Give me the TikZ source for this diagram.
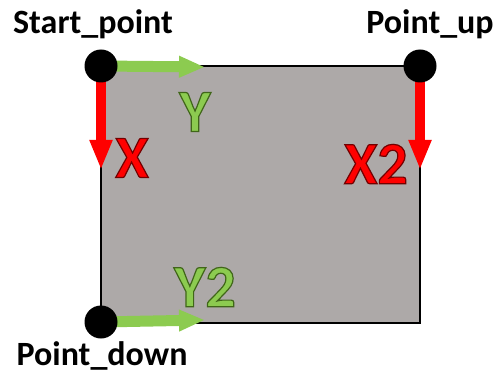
\documentclass[tikz,border=0pt]{standalone}
\usepackage{fontspec}
\setmainfont{Carlito}
\usetikzlibrary{arrows.meta}
\definecolor{boxgray}{HTML}{ADA9A8}
\definecolor{arrred}{HTML}{FF0000}
\definecolor{arrgreen}{HTML}{8CCB50}
\newcommand\myoutline[2]{\special{pdf:literal q 2 Tr 1.2 w #1 RG}#2\special{pdf:literal Q}}
\tikzset{
  dot/.style={circle,fill=black,inner sep=0pt,minimum size=33pt},
  redarrow/.style={draw=arrred,line width=10pt,-{Triangle[length=30pt,width=21pt]}},
  greenarrow/.style={draw=arrgreen,line width=11pt,-{Triangle[length=26pt,width=20pt]}},
  ptlabel/.style={font=\bfseries\fontsize{34}{38}\selectfont,text=black},
  axred/.style={font=\bfseries\fontsize{60}{64}\selectfont,text=arrred},
  axgreen/.style={font=\bfseries\fontsize{60}{64}\selectfont,text=arrgreen}
}
\begin{document}
\begin{tikzpicture}[x=1pt,y=-1pt]
\useasboundingbox (0,0) rectangle (497,374);
\coordinate (S) at (101,66);
\coordinate (U) at (420,66);
\coordinate (D) at (101,322);
\coordinate (Xend) at (101,170);
\coordinate (X2end) at (420,170);
\coordinate (Yend) at (205,67);
\coordinate (Y2end) at (205,320);
\draw[fill=boxgray,line width=1.5pt] (101,66) rectangle (420,323);
\draw[redarrow] (S) -- (Xend);
\draw[redarrow] (U) -- (X2end);
\draw[greenarrow] (S) -- (Yend);
\draw[greenarrow] (D) -- (Y2end);
\node[dot] (s) at (S) {};
\node[dot] (u) at (U) {};
\node[dot] (d) at (D) {};
\node[ptlabel] (ls) at (93,24) {Start\_point};
\node[ptlabel] (lu) at (430,24) {Point\_up};
\node[ptlabel] (ld) at (102,356) {Point\_down};
\node[axred] (x) at (132,158) {\myoutline{0.45 0 0}{X}};
\node[axgreen] (y) at (195,112) {\myoutline{0.25 0.4 0.1}{Y}};
\node[axred] (x2) at (376,164) {\myoutline{0.45 0 0}{X2}};
\node[axgreen] (y2) at (205,287) {\myoutline{0.25 0.4 0.1}{Y2}};
\end{tikzpicture}
\end{document}
